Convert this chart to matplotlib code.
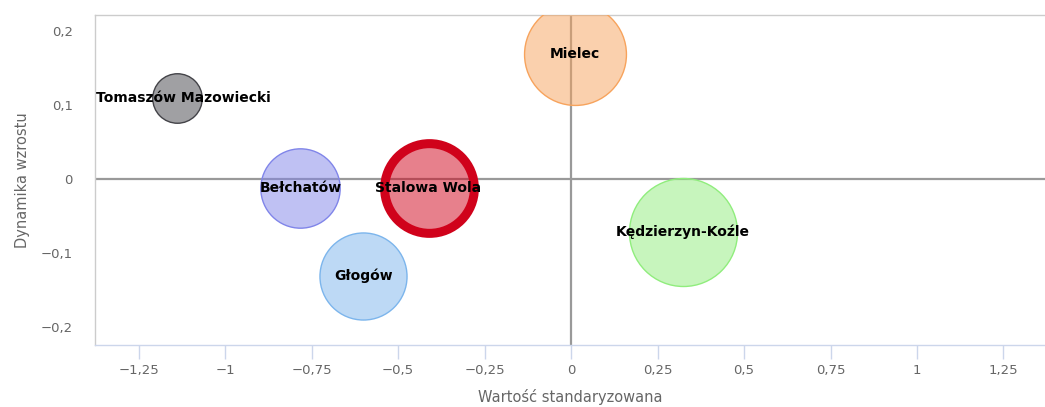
import matplotlib
matplotlib.use("Agg")
import matplotlib.pyplot as plt
import numpy as np

# ---- data ----
cities = ["Tomaszów Mazowiecki", "Mielec", "Bełchatów", "Stalowa Wola", "Głogów", "Kędzierzyn-Koźle"]
x_std = [-1.14, 0.012, -0.782, -0.412, -0.60, 0.324]
growth = [0.109, 0.169, -0.0115, -0.0115, -0.131, -0.0716]
bubble_z = [0.21, 0.89, 0.54, 0.69, 0.65, 1.0]

x_ticks = [-1.25, -1, -0.75, -0.5, -0.25, 0, 0.25, 0.5, 0.75, 1, 1.25]
x_ticklabels = ["−1,25", "−1", "−0,75", "−0,5", "−0,25", "0", "0,25", "0,5", "0,75", "1", "1,25"]
y_ticks = [-0.2, -0.1, 0, 0.1, 0.2]
y_ticklabels = ["−0,2", "−0,1", "0", "0,1", "0,2"]

x_title = "Wartość standaryzowana"
y_title = "Dynamika wzrostu"

# ---- styles ----
edges = ["#434348", "#f7a35c", "#8085e9", "#d0021b", "#7cb5ec", "#90ed7d"]
edge_w = [1.0, 1.0, 1.0, 6.5, 1.0, 1.0]
label_dx = [5, 0, 0, 0, 0, 0]
max_radius_px = 54.0

W, H, DPI = 10.45, 4.07, 100
fig = plt.figure(figsize=(W, H), dpi=DPI)
ax = fig.add_axes([95 / 1045, 62 / 407, 950 / 1045, 330 / 407])
ax.set_xlim(-1.376, 1.37)
ax.set_ylim(-0.224, 0.2216)

# zero lines
ax.axhline(0, color="#999999", lw=1.6, zorder=1)
ax.axvline(0, color="#999999", lw=1.6, zorder=1)

px_to_pt = 72.0 / DPI
for i, name in enumerate(cities):
    r_px = max_radius_px * np.sqrt(bubble_z[i])
    d_pt = 2 * r_px * px_to_pt
    face = matplotlib.colors.to_rgba(edges[i], 0.5)
    ax.scatter([x_std[i]], [growth[i]], s=d_pt ** 2, facecolors=[face], edgecolors=edges[i],
               linewidths=edge_w[i], zorder=3)
    ax.annotate(name, (x_std[i], growth[i]), xytext=(label_dx[i], 0), textcoords="offset points",
                ha="center", va="center", fontsize=10, fontweight="bold", color="black",
                zorder=5, annotation_clip=False)

ax.set_xticks(x_ticks)
ax.set_xticklabels(x_ticklabels)
ax.set_yticks(y_ticks)
ax.set_yticklabels(y_ticklabels)
ax.tick_params(axis="x", length=10, width=1, color="#ccd6eb", labelcolor="#666666",
               labelsize=9.5, pad=4)
ax.tick_params(axis="y", length=0, labelcolor="#666666", labelsize=9.5, pad=16)

for side in ["left", "top"]:
    ax.spines[side].set_color("#cccccc")
    ax.spines[side].set_linewidth(1)
ax.spines["bottom"].set_color("#ccd6eb")
ax.spines["bottom"].set_linewidth(1)
ax.spines["right"].set_visible(False)

ax.set_xlabel(x_title, color="#666666", fontsize=10.5, labelpad=8)
ax.set_ylabel(y_title, color="#666666", fontsize=10.5, labelpad=8)

fig.savefig("out.png", dpi=DPI)
